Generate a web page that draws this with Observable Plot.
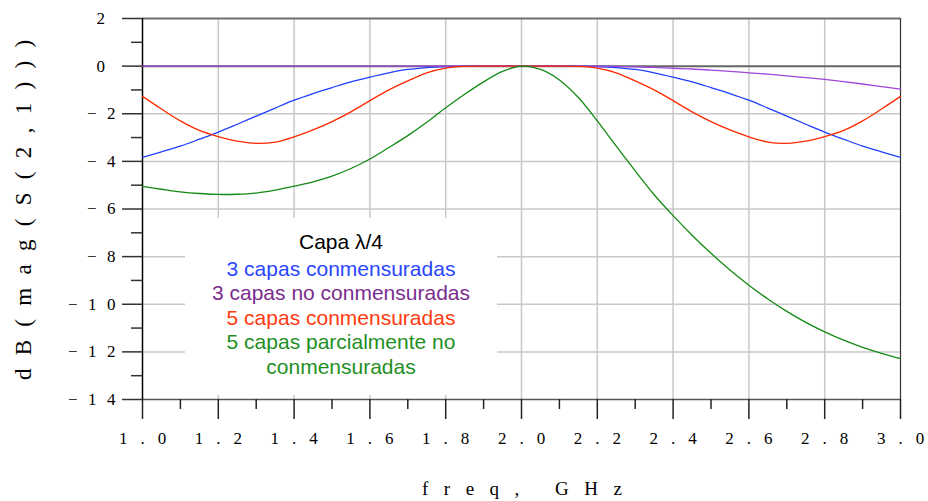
<!DOCTYPE html>
<html>
<head>
<meta charset="utf-8">
<script src="https://cdn.jsdelivr.net/npm/d3@7"></script>
<script src="https://cdn.jsdelivr.net/npm/@observablehq/plot@0.6"></script>
<style>
  html, body { margin: 0; padding: 0; background: #fff; }
  #wrap { position: relative; width: 928px; height: 501px; }
  #legend {
    position: absolute; left: 185px; top: 218px; width: 312px; height: 177px;
    background: #fff; text-align: center;
    font-family: "Liberation Sans", Arial, sans-serif; font-size: 21px; line-height: 24.6px;
    padding-top: 12px; box-sizing: border-box;
  }
  #legend div { white-space: nowrap; }
  #legend div:first-child { margin-bottom: 2px; }
</style>
</head>
<body>
<div id="wrap"></div>
<script>
// Frequency axis (GHz)
const freq = [1.00,1.05,1.10,1.15,1.20,1.25,1.30,1.35,1.40,1.45,1.50,1.55,1.60,1.65,1.70,1.75,1.80,1.85,1.90,1.95,
              2.00,2.05,2.10,2.15,2.20,2.25,2.30,2.35,2.40,2.45,2.50,2.55,2.60,2.65,2.70,2.75,2.80,2.85,2.90,2.95,3.00];

// dB(mag(S(2,1))) series
const capas3Conm = [-3.83,-3.60,-3.36,-3.07,-2.77,-2.44,-2.10,-1.76,-1.43,-1.15,-0.90,-0.66,-0.46,-0.28,-0.14,-0.06,-0.02,0,0,0,
                    0,0,0,0,-0.02,-0.06,-0.14,-0.28,-0.46,-0.66,-0.90,-1.15,-1.43,-1.76,-2.10,-2.44,-2.77,-3.07,-3.36,-3.60,-3.83];
const capas3NoConm = [0,0,0,0,0,0,0,0,0,0,0,0,0,0,0,0,0,0,0,0,
                      0,0,0,0,0,-0.01,-0.03,-0.05,-0.09,-0.12,-0.17,-0.22,-0.28,-0.34,-0.41,-0.48,-0.56,-0.65,-0.75,-0.86,-0.97];
const capas5Conm = [-1.27,-1.80,-2.30,-2.70,-2.96,-3.15,-3.24,-3.19,-2.97,-2.68,-2.33,-1.92,-1.45,-1.00,-0.62,-0.28,-0.08,-0.01,0,0,
                    0,0,0,-0.01,-0.08,-0.28,-0.62,-1.00,-1.45,-1.92,-2.33,-2.68,-2.97,-3.19,-3.24,-3.15,-2.96,-2.70,-2.30,-1.80,-1.27];
const capas5Parc = [-5.05,-5.17,-5.28,-5.35,-5.39,-5.38,-5.33,-5.21,-5.04,-4.86,-4.62,-4.30,-3.90,-3.42,-2.92,-2.36,-1.75,-1.18,-0.66,-0.22,
                    0,-0.14,-0.58,-1.32,-2.30,-3.36,-4.40,-5.40,-6.28,-7.10,-7.86,-8.56,-9.20,-9.78,-10.30,-10.76,-11.16,-11.51,-11.81,-12.06,-12.28];

// Ticks
const xMajor = [1.0,1.2,1.4,1.6,1.8,2.0,2.2,2.4,2.6,2.8,3.0];
const xMinor = [1.1,1.3,1.5,1.7,1.9,2.1,2.3,2.5,2.7,2.9];
const yMajor = [2,0,-2,-4,-6,-8,-10,-12,-14];
const yMinor = [1,-1,-3,-5,-7,-9,-11,-13];

// Legend
const legendTitle = "Capa λ/4";
const seriesNames = ["3 capas conmensuradas","3 capas no conmensuradas","5 capas conmensuradas","5 capas parcialmente no conmensuradas"];
const lineColors = ["#1f3fff","#a046dc","#ff2a00","#138a13"];
const textColors = ["#2a46ff","#7b2d8e","#ff3a10","#1f8f1f"];
const xTitle = "freq, GHz";
const yTitle = "dB(mag(S(2,1)))";

const seriesValues = [capas3Conm, capas3NoConm, capas5Conm, capas5Parc];
const rows = seriesValues.flatMap((vals, k) => freq.map((f, i) => ({f, v: vals[i], s: seriesNames[k]})));

const gridStyle = {stroke: "#c8c8c8", strokeOpacity: 1, strokeWidth: 1.5};

const chart = Plot.plot({
  width: 928, height: 501,
  marginLeft: 142, marginRight: 28, marginTop: 18, marginBottom: 102,
  x: {domain: [1, 3], label: null},
  y: {domain: [-14, 2], label: null},
  color: {domain: seriesNames, range: lineColors},
  style: {fontFamily: "'Liberation Serif', serif", fontSize: "17px", color: "#000", background: "#fff"},
  marks: [
    Plot.gridX(xMajor.slice(1, -1), gridStyle),
    Plot.gridY(yMajor.slice(2, -1), gridStyle),
    Plot.ruleY([2], {stroke: "#6f6f6f", strokeWidth: 2}),
    Plot.ruleY([-14], {stroke: "#555", strokeWidth: 1.5}),
    Plot.ruleY([0], {stroke: "#666", strokeWidth: 2}),
    Plot.ruleX([3], {stroke: "#333", strokeWidth: 1.2}),
    Plot.ruleX([1], {stroke: "#000", strokeWidth: 1.5}),
    Plot.axisY(yMajor, {tickSize: 20, tickPadding: 7, stroke: "#333", strokeWidth: 1.5, tickFormat: d3.format("d")}),
    Plot.axisY(yMinor, {tickSize: 11, stroke: "#333", strokeWidth: 1.5, tickFormat: () => ""}),
    Plot.axisX(xMajor, {tickSize: 20, tickPadding: 12, stroke: "#222", strokeWidth: 1.5, tickFormat: d3.format(".1f")}),
    Plot.axisX(xMinor, {tickSize: 10, stroke: "#222", strokeWidth: 1.5, tickFormat: () => ""}),
    Plot.line(rows, {x: "f", y: "v", z: "s", stroke: "s", strokeWidth: 1.3, curve: "catmull-rom"})
  ]
});

// letter-spaced text without trailing space after the last character
function spaced(el, spacing) {
  const t = el.textContent;
  const s = d3.select(el);
  s.style("letter-spacing", spacing + "px");
  if (t.length < 2) return;
  s.text(t.slice(0, -1));
  s.append("tspan").style("letter-spacing", "0px").text(t.slice(-1));
}

const svg = d3.select(chart);
svg.selectAll('g[aria-label="x-axis tick label"] text').each(function () { spaced(this, 13); });
svg.selectAll('g[aria-label="y-axis tick label"] text').each(function () { spaced(this, 10.5); });

const xs = chart.scale("x"), ys = chart.scale("y");
const xMid = (xs.apply(1) + xs.apply(3)) / 2;
const yMid = (ys.apply(2) + ys.apply(-14)) / 2;

const xt = svg.append("text")
  .attr("x", xMid + 1).attr("y", 495)
  .attr("text-anchor", "middle")
  .style("font-size", "19px")
  .attr("fill", "#000")
  .text(xTitle);
spaced(xt.node(), 15.5);

const yt = svg.append("text")
  .attr("transform", `translate(31,${yMid + 1.5}) rotate(-90)`)
  .attr("text-anchor", "middle")
  .style("font-size", "23px")
  .attr("fill", "#000")
  .text(yTitle);
spaced(yt.node(), 13.3);

const wrap = document.getElementById("wrap");
wrap.appendChild(chart);

const legend = document.createElement("div");
legend.id = "legend";
const legendLines = [
  {t: legendTitle, c: "#000"},
  {t: seriesNames[0], c: textColors[0]},
  {t: seriesNames[1], c: textColors[1]},
  {t: seriesNames[2], c: textColors[2]},
  {t: "5 capas parcialmente no", c: textColors[3]},
  {t: "conmensuradas", c: textColors[3]}
];
for (const l of legendLines) {
  const d = document.createElement("div");
  d.textContent = l.t;
  d.style.color = l.c;
  legend.appendChild(d);
}
wrap.appendChild(legend);
</script>
</body>
</html>
